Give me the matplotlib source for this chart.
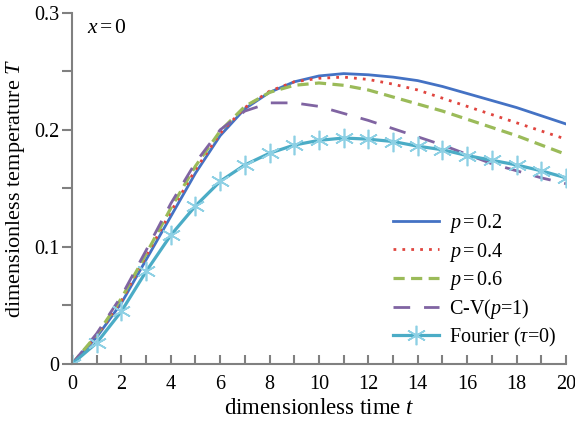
import numpy as np
import matplotlib.pyplot as plt
from matplotlib.ticker import MultipleLocator

plt.rcParams['font.family'] = ['Liberation Serif', 'DejaVu Serif']
plt.rcParams['mathtext.fontset'] = 'custom'
plt.rcParams['mathtext.rm'] = 'Liberation Serif'
plt.rcParams['mathtext.it'] = 'Liberation Serif:italic'

t = np.arange(0, 21)
T_p02 = [0, 0.023, 0.052, 0.089, 0.126, 0.163, 0.195, 0.218, 0.232, 0.241, 0.246,
         0.248, 0.247, 0.245, 0.242, 0.237, 0.231, 0.225, 0.219, 0.212, 0.205]
T_p04 = [0, 0.024, 0.054, 0.092, 0.130, 0.166, 0.197, 0.219, 0.233, 0.241, 0.244,
         0.245, 0.243, 0.239, 0.234, 0.227, 0.220, 0.213, 0.206, 0.199, 0.192]
T_p06 = [0, 0.025, 0.056, 0.094, 0.133, 0.169, 0.199, 0.220, 0.232, 0.238, 0.240,
         0.238, 0.234, 0.228, 0.222, 0.216, 0.209, 0.202, 0.195, 0.187, 0.179]
T_cv = [0, 0.026, 0.058, 0.097, 0.137, 0.172, 0.200, 0.216, 0.223, 0.223, 0.220,
        0.214, 0.208, 0.201, 0.194, 0.187, 0.179, 0.171, 0.165, 0.159, 0.154]
T_fourier = [0, 0.018, 0.045, 0.079, 0.110, 0.135, 0.156, 0.170, 0.180, 0.187, 0.191,
             0.193, 0.192, 0.190, 0.186, 0.183, 0.178, 0.174, 0.170, 0.165, 0.159]

fig = plt.figure(figsize=(5.75, 4.21), dpi=100)
ax = fig.add_axes([0.1252, 0.1354, 0.8591, 0.8344])

lw = 2.0
ax.plot(t, T_p02, color='#4472C4', lw=lw, label='$p\\,$=$\\,$0.2')
ax.plot(t, T_p04, color='#E0453F', lw=lw, ls=(0, (1, 2.2)), label='$p\\,$=$\\,$0.4')
ax.plot(t, T_p06, color='#9BBB59', lw=lw + 0.3, ls=(0, (3.5, 2)), label='$p\\,$=$\\,$0.6')
ax.plot(t, T_cv, color='#8064A2', lw=lw, ls=(0, (6, 5)), label='C-V($p$=1)')
ax.plot(t, T_fourier, color='#4BACC6', lw=lw + 0.3, marker=(6, 2, 0), ms=14,
        mec='#8DD0E4', mew=1.2, label='Fourier ($\\tau$=0)')

ax.set_xlim(0, 20)
ax.set_ylim(0, 0.3)
ax.xaxis.set_major_locator(MultipleLocator(2))
ax.xaxis.set_minor_locator(MultipleLocator(1))
ax.yaxis.set_minor_locator(MultipleLocator(0.05))
ax.set_yticks([0, 0.1, 0.2, 0.3])
ax.set_yticklabels(['0', '0.1', '0.2', '0.3'])

for side in ['top', 'right']:
    ax.spines[side].set_visible(False)
for side in ['left', 'bottom']:
    ax.spines[side].set_color('#808080')
    ax.spines[side].set_linewidth(1.5)

ax.tick_params(axis='x', which='both', direction='in', length=6.5, width=1.5,
               color='#808080', labelsize=14.5, pad=8)
ax.tick_params(axis='y', which='both', direction='out', length=7, width=1.5,
               color='#808080', labelsize=14.5, pad=2)

ax.set_xlabel('dimensionless time $t$', fontsize=16.5, labelpad=3)
ax.set_ylabel('dimensionless temperature $T$', fontsize=16, labelpad=5)

ax.text(0.03, 0.955, '$x\\,$=$\\,$0', transform=ax.transAxes, fontsize=15.5, va='center')

ax.legend(loc='lower right', bbox_to_anchor=(1.0, 0.015), frameon=False,
          fontsize=14.5, handlelength=2.3, handletextpad=0.45, labelspacing=0.25,
          borderaxespad=0.1)

fig.savefig('out.png', dpi=100)
